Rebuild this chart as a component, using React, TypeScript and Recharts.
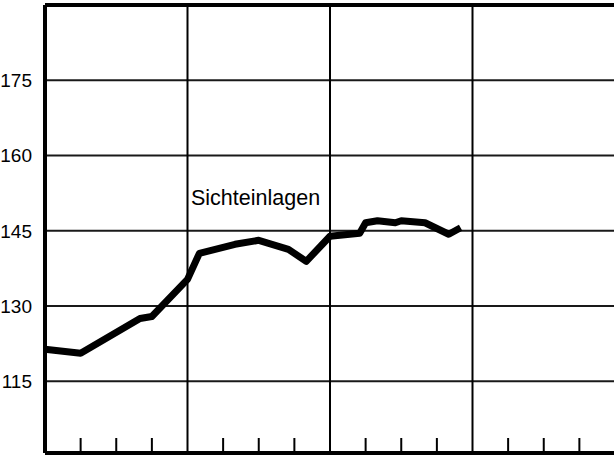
import { LineChart, Line, XAxis, YAxis, CartesianGrid, ReferenceLine } from "recharts";

// months since start of first year
const months = [0, 3, 8, 9, 12, 13, 16, 18, 20.5, 22, 24, 26.5, 27, 28, 29.5, 30, 32, 34, 35];
const sichteinlagen = [
  121.4, 120.6, 127.5, 127.9, 135.3, 140.5, 142.3, 143.1, 141.3, 138.9, 143.9, 144.5,
  146.6, 147.0, 146.6, 147.0, 146.6, 144.3, 145.6,
];

const yTicks = [115, 130, 145, 160, 175];
const quarterTicks = [0, 3, 6, 9, 12, 15, 18, 21, 24, 27, 30, 33, 36, 39, 42, 45, 48];
const yearLines = [12, 24, 36];

const data = months.map((m, i) => ({ month: m, value: sichteinlagen[i] }));

// short upward tick marks on the bottom axis, one per quarter
function QuarterTick(props: any) {
  const { x, y, payload } = props;
  if (payload.value % 12 === 0) return <g />;
  return <line x1={x} y1={y} x2={x} y2={y - 15} stroke="#000" strokeWidth={2} />;
}

export default function App() {
  return (
    <div
      style={{
        position: "absolute",
        top: 0,
        left: 0,
        width: 614,
        height: 457,
        overflow: "hidden",
        background: "#fff",
        fontFamily: "'Liberation Sans', Arial, sans-serif",
      }}
    >
      <LineChart width={640} height={457} data={data} margin={{ top: 5, right: 25, bottom: 3, left: 0 }}>
        <CartesianGrid vertical={false} stroke="#000" strokeWidth={2} strokeOpacity={0.9} />
        {yearLines.map((x) => (
          <ReferenceLine key={x} x={x} stroke="#000" strokeWidth={2} />
        ))}
        <ReferenceLine y={190} stroke="#000" strokeWidth={4} />
        <XAxis
          dataKey="month"
          type="number"
          domain={[0, 48]}
          ticks={quarterTicks}
          tickLine={false}
          tickSize={0}
          tickMargin={0}
          tick={<QuarterTick />}
          axisLine={{ stroke: "#000", strokeWidth: 4 }}
          height={1}
          interval={0}
        />
        <YAxis
          type="number"
          domain={[100.7, 190]}
          ticks={yTicks}
          width={45}
          tickLine={false}
          tickMargin={7}
          axisLine={{ stroke: "#000", strokeWidth: 4 }}
          tick={{ fill: "#000", fontSize: 19, fontFamily: "'Liberation Sans', Arial, sans-serif" }}
          allowDataOverflow
        />
        <Line
          type="linear"
          dataKey="value"
          stroke="#000"
          strokeWidth={7}
          strokeLinejoin="round"
          dot={false}
          isAnimationActive={false}
        />
        <text x={191} y={205} fontSize={21.5} fill="#000" fontFamily="'Liberation Sans', Arial, sans-serif">
          Sichteinlagen
        </text>
      </LineChart>
    </div>
  );
}
